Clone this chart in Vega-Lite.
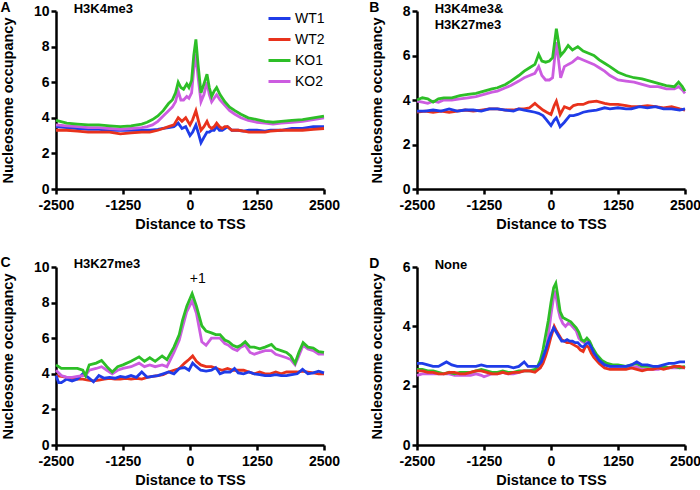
{
"$schema": "https://vega.github.io/schema/vega-lite/v6.json",
"padding": {"left": 0, "top": 0, "right": 5, "bottom": 0},
"spacing": 25,
"config": {
 "font": "Liberation Sans",
 "view": {"stroke": null},
 "axis": {"domainColor": "black", "domainWidth": 2.5, "tickColor": "black", "tickWidth": 2.5, "tickSize": 5, "labelFont": "Liberation Sans", "labelFontWeight": "bold", "labelFontSize": 14, "labelColor": "black", "labelPadding": 2, "labelOverlap": false, "titleFont": "Liberation Sans", "titleFontSize": 14.5, "titleFontWeight": "bold", "titleColor": "black", "grid": false, "labelFlush": false},
 "axisX": {"titlePadding": 5, "labelPadding": 4},
 "axisY": {"titlePadding": 18},
 "title": {"anchor": "start", "frame": "bounds", "fontSize": 14, "fontWeight": "bold", "font": "Liberation Sans", "color": "black", "offset": -12},
 "legend": {"orient": "none", "legendX": 211, "legendY": -5, "symbolType": "stroke", "symbolSize": 484, "symbolStrokeWidth": 3, "labelFont": "Liberation Sans", "labelFontSize": 14, "labelColor": "black", "labelOffset": 3, "rowPadding": 1, "padding": 0, "title": null}
},
"datasets": {
"d": [
{"p":"A","s":"WT1","x":-2500,"y":3.5},{"p":"A","s":"WT1","x":-2300,"y":3.45},{"p":"A","s":"WT1","x":-2100,"y":3.4},{"p":"A","s":"WT1","x":-1900,"y":3.35},{"p":"A","s":"WT1","x":-1700,"y":3.35},{"p":"A","s":"WT1","x":-1500,"y":3.3},{"p":"A","s":"WT1","x":-1300,"y":3.3},{"p":"A","s":"WT1","x":-1100,"y":3.3},{"p":"A","s":"WT1","x":-900,"y":3.3},{"p":"A","s":"WT1","x":-750,"y":3.3},{"p":"A","s":"WT1","x":-600,"y":3.35},{"p":"A","s":"WT1","x":-500,"y":3.4},{"p":"A","s":"WT1","x":-400,"y":3.45},{"p":"A","s":"WT1","x":-300,"y":3.5},{"p":"A","s":"WT1","x":-220,"y":3.7},{"p":"A","s":"WT1","x":-150,"y":3.4},{"p":"A","s":"WT1","x":-80,"y":3.5},{"p":"A","s":"WT1","x":0,"y":3.0},{"p":"A","s":"WT1","x":50,"y":3.2},{"p":"A","s":"WT1","x":110,"y":3.6},{"p":"A","s":"WT1","x":160,"y":3.1},{"p":"A","s":"WT1","x":205,"y":2.6},{"p":"A","s":"WT1","x":260,"y":2.9},{"p":"A","s":"WT1","x":317,"y":3.2},{"p":"A","s":"WT1","x":360,"y":3.2},{"p":"A","s":"WT1","x":404,"y":3.3},{"p":"A","s":"WT1","x":450,"y":3.3},{"p":"A","s":"WT1","x":497,"y":3.5},{"p":"A","s":"WT1","x":550,"y":3.3},{"p":"A","s":"WT1","x":600,"y":3.3},{"p":"A","s":"WT1","x":650,"y":3.4},{"p":"A","s":"WT1","x":700,"y":3.5},{"p":"A","s":"WT1","x":780,"y":3.3},{"p":"A","s":"WT1","x":900,"y":3.3},{"p":"A","s":"WT1","x":1000,"y":3.25},{"p":"A","s":"WT1","x":1100,"y":3.3},{"p":"A","s":"WT1","x":1250,"y":3.3},{"p":"A","s":"WT1","x":1400,"y":3.25},{"p":"A","s":"WT1","x":1500,"y":3.3},{"p":"A","s":"WT1","x":1700,"y":3.3},{"p":"A","s":"WT1","x":1900,"y":3.4},{"p":"A","s":"WT1","x":2100,"y":3.4},{"p":"A","s":"WT1","x":2300,"y":3.5},{"p":"A","s":"WT1","x":2500,"y":3.5},
{"p":"A","s":"WT2","x":-2500,"y":3.3},{"p":"A","s":"WT2","x":-2300,"y":3.3},{"p":"A","s":"WT2","x":-2100,"y":3.25},{"p":"A","s":"WT2","x":-1900,"y":3.2},{"p":"A","s":"WT2","x":-1700,"y":3.2},{"p":"A","s":"WT2","x":-1500,"y":3.2},{"p":"A","s":"WT2","x":-1300,"y":3.1},{"p":"A","s":"WT2","x":-1100,"y":3.15},{"p":"A","s":"WT2","x":-900,"y":3.2},{"p":"A","s":"WT2","x":-750,"y":3.2},{"p":"A","s":"WT2","x":-600,"y":3.3},{"p":"A","s":"WT2","x":-500,"y":3.4},{"p":"A","s":"WT2","x":-400,"y":3.5},{"p":"A","s":"WT2","x":-300,"y":3.6},{"p":"A","s":"WT2","x":-220,"y":4.0},{"p":"A","s":"WT2","x":-150,"y":3.8},{"p":"A","s":"WT2","x":-80,"y":4.0},{"p":"A","s":"WT2","x":0,"y":3.6},{"p":"A","s":"WT2","x":50,"y":3.9},{"p":"A","s":"WT2","x":110,"y":4.4},{"p":"A","s":"WT2","x":160,"y":3.8},{"p":"A","s":"WT2","x":205,"y":3.3},{"p":"A","s":"WT2","x":260,"y":3.5},{"p":"A","s":"WT2","x":317,"y":3.8},{"p":"A","s":"WT2","x":360,"y":3.5},{"p":"A","s":"WT2","x":404,"y":3.4},{"p":"A","s":"WT2","x":450,"y":3.5},{"p":"A","s":"WT2","x":497,"y":3.7},{"p":"A","s":"WT2","x":550,"y":3.5},{"p":"A","s":"WT2","x":600,"y":3.4},{"p":"A","s":"WT2","x":650,"y":3.5},{"p":"A","s":"WT2","x":700,"y":3.5},{"p":"A","s":"WT2","x":780,"y":3.3},{"p":"A","s":"WT2","x":900,"y":3.3},{"p":"A","s":"WT2","x":1000,"y":3.25},{"p":"A","s":"WT2","x":1100,"y":3.2},{"p":"A","s":"WT2","x":1250,"y":3.2},{"p":"A","s":"WT2","x":1400,"y":3.2},{"p":"A","s":"WT2","x":1500,"y":3.25},{"p":"A","s":"WT2","x":1700,"y":3.3},{"p":"A","s":"WT2","x":1900,"y":3.3},{"p":"A","s":"WT2","x":2100,"y":3.3},{"p":"A","s":"WT2","x":2300,"y":3.35},{"p":"A","s":"WT2","x":2500,"y":3.4},
{"p":"A","s":"KO2","x":-2500,"y":3.6},{"p":"A","s":"KO2","x":-2300,"y":3.55},{"p":"A","s":"KO2","x":-2100,"y":3.5},{"p":"A","s":"KO2","x":-1900,"y":3.45},{"p":"A","s":"KO2","x":-1700,"y":3.45},{"p":"A","s":"KO2","x":-1500,"y":3.4},{"p":"A","s":"KO2","x":-1300,"y":3.35},{"p":"A","s":"KO2","x":-1100,"y":3.4},{"p":"A","s":"KO2","x":-900,"y":3.45},{"p":"A","s":"KO2","x":-800,"y":3.5},{"p":"A","s":"KO2","x":-700,"y":3.6},{"p":"A","s":"KO2","x":-600,"y":3.8},{"p":"A","s":"KO2","x":-500,"y":4.1},{"p":"A","s":"KO2","x":-400,"y":4.4},{"p":"A","s":"KO2","x":-330,"y":4.6},{"p":"A","s":"KO2","x":-270,"y":4.9},{"p":"A","s":"KO2","x":-220,"y":5.5},{"p":"A","s":"KO2","x":-170,"y":5.0},{"p":"A","s":"KO2","x":-120,"y":5.0},{"p":"A","s":"KO2","x":-60,"y":5.2},{"p":"A","s":"KO2","x":-20,"y":5.1},{"p":"A","s":"KO2","x":30,"y":5.4},{"p":"A","s":"KO2","x":70,"y":6.7},{"p":"A","s":"KO2","x":110,"y":7.6},{"p":"A","s":"KO2","x":150,"y":6.3},{"p":"A","s":"KO2","x":205,"y":4.9},{"p":"A","s":"KO2","x":260,"y":5.3},{"p":"A","s":"KO2","x":317,"y":6.0},{"p":"A","s":"KO2","x":360,"y":5.3},{"p":"A","s":"KO2","x":404,"y":4.9},{"p":"A","s":"KO2","x":450,"y":5.1},{"p":"A","s":"KO2","x":497,"y":5.3},{"p":"A","s":"KO2","x":560,"y":5.0},{"p":"A","s":"KO2","x":650,"y":4.7},{"p":"A","s":"KO2","x":740,"y":4.4},{"p":"A","s":"KO2","x":838,"y":4.2},{"p":"A","s":"KO2","x":950,"y":4.0},{"p":"A","s":"KO2","x":1087,"y":3.85},{"p":"A","s":"KO2","x":1250,"y":3.75},{"p":"A","s":"KO2","x":1400,"y":3.7},{"p":"A","s":"KO2","x":1550,"y":3.65},{"p":"A","s":"KO2","x":1700,"y":3.7},{"p":"A","s":"KO2","x":1900,"y":3.75},{"p":"A","s":"KO2","x":2100,"y":3.8},{"p":"A","s":"KO2","x":2300,"y":3.9},{"p":"A","s":"KO2","x":2500,"y":4.0},
{"p":"A","s":"KO1","x":-2500,"y":3.85},{"p":"A","s":"KO1","x":-2300,"y":3.7},{"p":"A","s":"KO1","x":-2100,"y":3.65},{"p":"A","s":"KO1","x":-1900,"y":3.6},{"p":"A","s":"KO1","x":-1700,"y":3.6},{"p":"A","s":"KO1","x":-1500,"y":3.55},{"p":"A","s":"KO1","x":-1300,"y":3.5},{"p":"A","s":"KO1","x":-1100,"y":3.55},{"p":"A","s":"KO1","x":-900,"y":3.65},{"p":"A","s":"KO1","x":-800,"y":3.75},{"p":"A","s":"KO1","x":-700,"y":3.9},{"p":"A","s":"KO1","x":-600,"y":4.1},{"p":"A","s":"KO1","x":-500,"y":4.4},{"p":"A","s":"KO1","x":-400,"y":4.8},{"p":"A","s":"KO1","x":-330,"y":5.0},{"p":"A","s":"KO1","x":-270,"y":5.4},{"p":"A","s":"KO1","x":-220,"y":6.0},{"p":"A","s":"KO1","x":-170,"y":5.7},{"p":"A","s":"KO1","x":-120,"y":5.6},{"p":"A","s":"KO1","x":-60,"y":5.9},{"p":"A","s":"KO1","x":-20,"y":5.7},{"p":"A","s":"KO1","x":30,"y":6.1},{"p":"A","s":"KO1","x":70,"y":7.5},{"p":"A","s":"KO1","x":110,"y":8.4},{"p":"A","s":"KO1","x":150,"y":7.0},{"p":"A","s":"KO1","x":205,"y":5.4},{"p":"A","s":"KO1","x":260,"y":5.9},{"p":"A","s":"KO1","x":317,"y":6.45},{"p":"A","s":"KO1","x":360,"y":5.7},{"p":"A","s":"KO1","x":404,"y":5.2},{"p":"A","s":"KO1","x":450,"y":5.5},{"p":"A","s":"KO1","x":497,"y":5.7},{"p":"A","s":"KO1","x":560,"y":5.3},{"p":"A","s":"KO1","x":650,"y":4.9},{"p":"A","s":"KO1","x":740,"y":4.6},{"p":"A","s":"KO1","x":838,"y":4.4},{"p":"A","s":"KO1","x":950,"y":4.2},{"p":"A","s":"KO1","x":1087,"y":4.0},{"p":"A","s":"KO1","x":1250,"y":3.9},{"p":"A","s":"KO1","x":1400,"y":3.8},{"p":"A","s":"KO1","x":1550,"y":3.75},{"p":"A","s":"KO1","x":1700,"y":3.8},{"p":"A","s":"KO1","x":1900,"y":3.85},{"p":"A","s":"KO1","x":2100,"y":3.9},{"p":"A","s":"KO1","x":2300,"y":4.0},{"p":"A","s":"KO1","x":2500,"y":4.1},

{"p":"B","s":"WT2","x":-2500,"y":3.45},{"p":"B","s":"WT2","x":-2350,"y":3.5},{"p":"B","s":"WT2","x":-2200,"y":3.45},{"p":"B","s":"WT2","x":-2050,"y":3.5},{"p":"B","s":"WT2","x":-1900,"y":3.45},{"p":"B","s":"WT2","x":-1750,"y":3.5},{"p":"B","s":"WT2","x":-1600,"y":3.55},{"p":"B","s":"WT2","x":-1450,"y":3.5},{"p":"B","s":"WT2","x":-1300,"y":3.55},{"p":"B","s":"WT2","x":-1150,"y":3.6},{"p":"B","s":"WT2","x":-1000,"y":3.6},{"p":"B","s":"WT2","x":-850,"y":3.55},{"p":"B","s":"WT2","x":-700,"y":3.55},{"p":"B","s":"WT2","x":-600,"y":3.6},{"p":"B","s":"WT2","x":-500,"y":3.6},{"p":"B","s":"WT2","x":-400,"y":3.65},{"p":"B","s":"WT2","x":-300,"y":3.85},{"p":"B","s":"WT2","x":-230,"y":3.7},{"p":"B","s":"WT2","x":-150,"y":3.55},{"p":"B","s":"WT2","x":-80,"y":3.45},{"p":"B","s":"WT2","x":0,"y":3.35},{"p":"B","s":"WT2","x":60,"y":3.75},{"p":"B","s":"WT2","x":100,"y":3.95},{"p":"B","s":"WT2","x":170,"y":3.35},{"p":"B","s":"WT2","x":250,"y":3.7},{"p":"B","s":"WT2","x":350,"y":3.6},{"p":"B","s":"WT2","x":420,"y":3.75},{"p":"B","s":"WT2","x":500,"y":3.8},{"p":"B","s":"WT2","x":600,"y":3.8},{"p":"B","s":"WT2","x":700,"y":3.9},{"p":"B","s":"WT2","x":850,"y":3.95},{"p":"B","s":"WT2","x":1000,"y":3.85},{"p":"B","s":"WT2","x":1100,"y":3.8},{"p":"B","s":"WT2","x":1250,"y":3.8},{"p":"B","s":"WT2","x":1400,"y":3.75},{"p":"B","s":"WT2","x":1500,"y":3.7},{"p":"B","s":"WT2","x":1650,"y":3.7},{"p":"B","s":"WT2","x":1800,"y":3.75},{"p":"B","s":"WT2","x":1950,"y":3.7},{"p":"B","s":"WT2","x":2100,"y":3.65},{"p":"B","s":"WT2","x":2250,"y":3.7},{"p":"B","s":"WT2","x":2400,"y":3.6},{"p":"B","s":"WT2","x":2500,"y":3.55},
{"p":"B","s":"WT1","x":-2500,"y":3.5},{"p":"B","s":"WT1","x":-2350,"y":3.5},{"p":"B","s":"WT1","x":-2200,"y":3.55},{"p":"B","s":"WT1","x":-2050,"y":3.5},{"p":"B","s":"WT1","x":-1900,"y":3.6},{"p":"B","s":"WT1","x":-1750,"y":3.5},{"p":"B","s":"WT1","x":-1600,"y":3.55},{"p":"B","s":"WT1","x":-1450,"y":3.55},{"p":"B","s":"WT1","x":-1300,"y":3.5},{"p":"B","s":"WT1","x":-1150,"y":3.6},{"p":"B","s":"WT1","x":-1000,"y":3.6},{"p":"B","s":"WT1","x":-850,"y":3.55},{"p":"B","s":"WT1","x":-700,"y":3.5},{"p":"B","s":"WT1","x":-600,"y":3.6},{"p":"B","s":"WT1","x":-500,"y":3.55},{"p":"B","s":"WT1","x":-400,"y":3.5},{"p":"B","s":"WT1","x":-300,"y":3.45},{"p":"B","s":"WT1","x":-230,"y":3.4},{"p":"B","s":"WT1","x":-150,"y":3.3},{"p":"B","s":"WT1","x":-80,"y":3.1},{"p":"B","s":"WT1","x":0,"y":2.85},{"p":"B","s":"WT1","x":60,"y":3.1},{"p":"B","s":"WT1","x":100,"y":3.2},{"p":"B","s":"WT1","x":170,"y":2.8},{"p":"B","s":"WT1","x":250,"y":3.0},{"p":"B","s":"WT1","x":350,"y":3.3},{"p":"B","s":"WT1","x":420,"y":3.3},{"p":"B","s":"WT1","x":500,"y":3.35},{"p":"B","s":"WT1","x":600,"y":3.45},{"p":"B","s":"WT1","x":700,"y":3.5},{"p":"B","s":"WT1","x":850,"y":3.55},{"p":"B","s":"WT1","x":1000,"y":3.65},{"p":"B","s":"WT1","x":1100,"y":3.6},{"p":"B","s":"WT1","x":1250,"y":3.65},{"p":"B","s":"WT1","x":1400,"y":3.6},{"p":"B","s":"WT1","x":1500,"y":3.6},{"p":"B","s":"WT1","x":1650,"y":3.7},{"p":"B","s":"WT1","x":1800,"y":3.65},{"p":"B","s":"WT1","x":1950,"y":3.7},{"p":"B","s":"WT1","x":2100,"y":3.6},{"p":"B","s":"WT1","x":2250,"y":3.6},{"p":"B","s":"WT1","x":2400,"y":3.55},{"p":"B","s":"WT1","x":2500,"y":3.6},
{"p":"B","s":"KO2","x":-2500,"y":3.95},{"p":"B","s":"KO2","x":-2400,"y":3.9},{"p":"B","s":"KO2","x":-2300,"y":3.85},{"p":"B","s":"KO2","x":-2200,"y":3.95},{"p":"B","s":"KO2","x":-2100,"y":3.9},{"p":"B","s":"KO2","x":-2000,"y":4.0},{"p":"B","s":"KO2","x":-1850,"y":4.0},{"p":"B","s":"KO2","x":-1700,"y":4.05},{"p":"B","s":"KO2","x":-1550,"y":4.1},{"p":"B","s":"KO2","x":-1400,"y":4.15},{"p":"B","s":"KO2","x":-1250,"y":4.25},{"p":"B","s":"KO2","x":-1100,"y":4.35},{"p":"B","s":"KO2","x":-1000,"y":4.4},{"p":"B","s":"KO2","x":-850,"y":4.55},{"p":"B","s":"KO2","x":-750,"y":4.65},{"p":"B","s":"KO2","x":-600,"y":4.85},{"p":"B","s":"KO2","x":-500,"y":5.0},{"p":"B","s":"KO2","x":-400,"y":5.1},{"p":"B","s":"KO2","x":-300,"y":5.2},{"p":"B","s":"KO2","x":-230,"y":5.5},{"p":"B","s":"KO2","x":-170,"y":5.1},{"p":"B","s":"KO2","x":-100,"y":4.9},{"p":"B","s":"KO2","x":-30,"y":4.9},{"p":"B","s":"KO2","x":30,"y":5.0},{"p":"B","s":"KO2","x":100,"y":6.6},{"p":"B","s":"KO2","x":140,"y":5.8},{"p":"B","s":"KO2","x":180,"y":5.0},{"p":"B","s":"KO2","x":250,"y":5.5},{"p":"B","s":"KO2","x":320,"y":5.6},{"p":"B","s":"KO2","x":400,"y":5.7},{"p":"B","s":"KO2","x":500,"y":5.9},{"p":"B","s":"KO2","x":600,"y":5.8},{"p":"B","s":"KO2","x":700,"y":5.7},{"p":"B","s":"KO2","x":800,"y":5.6},{"p":"B","s":"KO2","x":900,"y":5.45},{"p":"B","s":"KO2","x":1000,"y":5.3},{"p":"B","s":"KO2","x":1100,"y":5.1},{"p":"B","s":"KO2","x":1250,"y":4.9},{"p":"B","s":"KO2","x":1400,"y":4.85},{"p":"B","s":"KO2","x":1550,"y":4.8},{"p":"B","s":"KO2","x":1700,"y":4.7},{"p":"B","s":"KO2","x":1850,"y":4.6},{"p":"B","s":"KO2","x":2000,"y":4.6},{"p":"B","s":"KO2","x":2150,"y":4.5},{"p":"B","s":"KO2","x":2300,"y":4.5},{"p":"B","s":"KO2","x":2380,"y":4.6},{"p":"B","s":"KO2","x":2450,"y":4.45},{"p":"B","s":"KO2","x":2500,"y":4.3},
{"p":"B","s":"KO1","x":-2500,"y":4.0},{"p":"B","s":"KO1","x":-2400,"y":4.1},{"p":"B","s":"KO1","x":-2300,"y":4.05},{"p":"B","s":"KO1","x":-2200,"y":3.9},{"p":"B","s":"KO1","x":-2100,"y":4.05},{"p":"B","s":"KO1","x":-2000,"y":4.1},{"p":"B","s":"KO1","x":-1850,"y":4.1},{"p":"B","s":"KO1","x":-1700,"y":4.2},{"p":"B","s":"KO1","x":-1550,"y":4.25},{"p":"B","s":"KO1","x":-1400,"y":4.3},{"p":"B","s":"KO1","x":-1250,"y":4.4},{"p":"B","s":"KO1","x":-1100,"y":4.5},{"p":"B","s":"KO1","x":-1000,"y":4.55},{"p":"B","s":"KO1","x":-850,"y":4.7},{"p":"B","s":"KO1","x":-750,"y":4.85},{"p":"B","s":"KO1","x":-600,"y":5.1},{"p":"B","s":"KO1","x":-500,"y":5.3},{"p":"B","s":"KO1","x":-400,"y":5.45},{"p":"B","s":"KO1","x":-300,"y":5.6},{"p":"B","s":"KO1","x":-230,"y":6.05},{"p":"B","s":"KO1","x":-170,"y":5.75},{"p":"B","s":"KO1","x":-100,"y":5.7},{"p":"B","s":"KO1","x":-30,"y":5.75},{"p":"B","s":"KO1","x":30,"y":5.9},{"p":"B","s":"KO1","x":100,"y":7.2},{"p":"B","s":"KO1","x":140,"y":6.6},{"p":"B","s":"KO1","x":180,"y":6.0},{"p":"B","s":"KO1","x":250,"y":6.2},{"p":"B","s":"KO1","x":320,"y":6.45},{"p":"B","s":"KO1","x":400,"y":6.25},{"p":"B","s":"KO1","x":500,"y":6.4},{"p":"B","s":"KO1","x":600,"y":6.2},{"p":"B","s":"KO1","x":700,"y":6.1},{"p":"B","s":"KO1","x":800,"y":6.0},{"p":"B","s":"KO1","x":900,"y":5.8},{"p":"B","s":"KO1","x":1000,"y":5.65},{"p":"B","s":"KO1","x":1100,"y":5.5},{"p":"B","s":"KO1","x":1250,"y":5.25},{"p":"B","s":"KO1","x":1400,"y":5.1},{"p":"B","s":"KO1","x":1550,"y":5.0},{"p":"B","s":"KO1","x":1700,"y":4.95},{"p":"B","s":"KO1","x":1850,"y":4.85},{"p":"B","s":"KO1","x":2000,"y":4.75},{"p":"B","s":"KO1","x":2150,"y":4.65},{"p":"B","s":"KO1","x":2300,"y":4.6},{"p":"B","s":"KO1","x":2380,"y":4.8},{"p":"B","s":"KO1","x":2450,"y":4.6},{"p":"B","s":"KO1","x":2500,"y":4.4},

{"p":"C","s":"WT2","x":-2500,"y":3.9},{"p":"C","s":"WT2","x":-2400,"y":3.85},{"p":"C","s":"WT2","x":-2300,"y":3.8},{"p":"C","s":"WT2","x":-2200,"y":3.75},{"p":"C","s":"WT2","x":-2100,"y":3.7},{"p":"C","s":"WT2","x":-2000,"y":3.7},{"p":"C","s":"WT2","x":-1900,"y":3.65},{"p":"C","s":"WT2","x":-1800,"y":3.6},{"p":"C","s":"WT2","x":-1700,"y":3.65},{"p":"C","s":"WT2","x":-1600,"y":3.7},{"p":"C","s":"WT2","x":-1500,"y":3.75},{"p":"C","s":"WT2","x":-1400,"y":3.7},{"p":"C","s":"WT2","x":-1300,"y":3.7},{"p":"C","s":"WT2","x":-1200,"y":3.75},{"p":"C","s":"WT2","x":-1100,"y":3.7},{"p":"C","s":"WT2","x":-1000,"y":3.75},{"p":"C","s":"WT2","x":-900,"y":3.7},{"p":"C","s":"WT2","x":-800,"y":3.8},{"p":"C","s":"WT2","x":-700,"y":3.85},{"p":"C","s":"WT2","x":-600,"y":3.9},{"p":"C","s":"WT2","x":-500,"y":3.95},{"p":"C","s":"WT2","x":-400,"y":4.1},{"p":"C","s":"WT2","x":-300,"y":4.2},{"p":"C","s":"WT2","x":-200,"y":4.3},{"p":"C","s":"WT2","x":-100,"y":4.6},{"p":"C","s":"WT2","x":-20,"y":4.8},{"p":"C","s":"WT2","x":50,"y":5.0},{"p":"C","s":"WT2","x":120,"y":4.7},{"p":"C","s":"WT2","x":200,"y":4.5},{"p":"C","s":"WT2","x":300,"y":4.4},{"p":"C","s":"WT2","x":400,"y":4.4},{"p":"C","s":"WT2","x":500,"y":4.3},{"p":"C","s":"WT2","x":600,"y":4.2},{"p":"C","s":"WT2","x":700,"y":4.3},{"p":"C","s":"WT2","x":800,"y":4.2},{"p":"C","s":"WT2","x":900,"y":4.2},{"p":"C","s":"WT2","x":1000,"y":4.2},{"p":"C","s":"WT2","x":1100,"y":4.1},{"p":"C","s":"WT2","x":1200,"y":4.0},{"p":"C","s":"WT2","x":1300,"y":4.1},{"p":"C","s":"WT2","x":1400,"y":4.0},{"p":"C","s":"WT2","x":1500,"y":4.0},{"p":"C","s":"WT2","x":1600,"y":4.1},{"p":"C","s":"WT2","x":1700,"y":4.0},{"p":"C","s":"WT2","x":1800,"y":4.1},{"p":"C","s":"WT2","x":1900,"y":4.1},{"p":"C","s":"WT2","x":2000,"y":4.1},{"p":"C","s":"WT2","x":2100,"y":4.15},{"p":"C","s":"WT2","x":2200,"y":4.1},{"p":"C","s":"WT2","x":2300,"y":4.05},{"p":"C","s":"WT2","x":2400,"y":4.0},{"p":"C","s":"WT2","x":2500,"y":4.0},
{"p":"C","s":"WT1","x":-2500,"y":3.9},{"p":"C","s":"WT1","x":-2450,"y":3.5},{"p":"C","s":"WT1","x":-2400,"y":3.5},{"p":"C","s":"WT1","x":-2300,"y":3.7},{"p":"C","s":"WT1","x":-2200,"y":3.6},{"p":"C","s":"WT1","x":-2100,"y":3.7},{"p":"C","s":"WT1","x":-2000,"y":4.0},{"p":"C","s":"WT1","x":-1900,"y":3.8},{"p":"C","s":"WT1","x":-1800,"y":3.55},{"p":"C","s":"WT1","x":-1700,"y":3.9},{"p":"C","s":"WT1","x":-1600,"y":3.75},{"p":"C","s":"WT1","x":-1500,"y":3.8},{"p":"C","s":"WT1","x":-1400,"y":3.75},{"p":"C","s":"WT1","x":-1300,"y":3.85},{"p":"C","s":"WT1","x":-1200,"y":3.8},{"p":"C","s":"WT1","x":-1100,"y":3.9},{"p":"C","s":"WT1","x":-1000,"y":3.8},{"p":"C","s":"WT1","x":-900,"y":4.1},{"p":"C","s":"WT1","x":-800,"y":3.8},{"p":"C","s":"WT1","x":-700,"y":3.85},{"p":"C","s":"WT1","x":-600,"y":3.9},{"p":"C","s":"WT1","x":-500,"y":4.0},{"p":"C","s":"WT1","x":-400,"y":4.1},{"p":"C","s":"WT1","x":-300,"y":4.0},{"p":"C","s":"WT1","x":-200,"y":4.3},{"p":"C","s":"WT1","x":-100,"y":4.35},{"p":"C","s":"WT1","x":-20,"y":4.2},{"p":"C","s":"WT1","x":50,"y":4.6},{"p":"C","s":"WT1","x":120,"y":4.4},{"p":"C","s":"WT1","x":200,"y":4.2},{"p":"C","s":"WT1","x":300,"y":4.15},{"p":"C","s":"WT1","x":400,"y":4.2},{"p":"C","s":"WT1","x":480,"y":4.35},{"p":"C","s":"WT1","x":560,"y":4.0},{"p":"C","s":"WT1","x":650,"y":4.1},{"p":"C","s":"WT1","x":750,"y":4.1},{"p":"C","s":"WT1","x":830,"y":4.3},{"p":"C","s":"WT1","x":900,"y":4.05},{"p":"C","s":"WT1","x":1000,"y":4.0},{"p":"C","s":"WT1","x":1100,"y":4.1},{"p":"C","s":"WT1","x":1200,"y":4.0},{"p":"C","s":"WT1","x":1300,"y":3.95},{"p":"C","s":"WT1","x":1400,"y":3.9},{"p":"C","s":"WT1","x":1500,"y":3.9},{"p":"C","s":"WT1","x":1600,"y":3.95},{"p":"C","s":"WT1","x":1700,"y":3.9},{"p":"C","s":"WT1","x":1800,"y":3.9},{"p":"C","s":"WT1","x":1900,"y":3.95},{"p":"C","s":"WT1","x":2000,"y":4.0},{"p":"C","s":"WT1","x":2100,"y":4.25},{"p":"C","s":"WT1","x":2200,"y":4.0},{"p":"C","s":"WT1","x":2300,"y":4.05},{"p":"C","s":"WT1","x":2400,"y":4.15},{"p":"C","s":"WT1","x":2500,"y":4.05},
{"p":"C","s":"KO2","x":-2500,"y":4.2},{"p":"C","s":"KO2","x":-2400,"y":3.9},{"p":"C","s":"KO2","x":-2300,"y":3.8},{"p":"C","s":"KO2","x":-2200,"y":3.8},{"p":"C","s":"KO2","x":-2100,"y":3.85},{"p":"C","s":"KO2","x":-2000,"y":3.9},{"p":"C","s":"KO2","x":-1950,"y":3.9},{"p":"C","s":"KO2","x":-1880,"y":4.2},{"p":"C","s":"KO2","x":-1750,"y":4.3},{"p":"C","s":"KO2","x":-1650,"y":4.4},{"p":"C","s":"KO2","x":-1550,"y":4.2},{"p":"C","s":"KO2","x":-1450,"y":4.0},{"p":"C","s":"KO2","x":-1350,"y":4.2},{"p":"C","s":"KO2","x":-1250,"y":4.3},{"p":"C","s":"KO2","x":-1100,"y":4.4},{"p":"C","s":"KO2","x":-950,"y":4.6},{"p":"C","s":"KO2","x":-850,"y":4.4},{"p":"C","s":"KO2","x":-750,"y":4.5},{"p":"C","s":"KO2","x":-650,"y":4.4},{"p":"C","s":"KO2","x":-520,"y":4.5},{"p":"C","s":"KO2","x":-430,"y":4.4},{"p":"C","s":"KO2","x":-300,"y":5.2},{"p":"C","s":"KO2","x":-200,"y":5.9},{"p":"C","s":"KO2","x":-140,"y":6.6},{"p":"C","s":"KO2","x":-60,"y":7.5},{"p":"C","s":"KO2","x":40,"y":8.1},{"p":"C","s":"KO2","x":120,"y":7.4},{"p":"C","s":"KO2","x":220,"y":5.8},{"p":"C","s":"KO2","x":300,"y":5.6},{"p":"C","s":"KO2","x":400,"y":6.0},{"p":"C","s":"KO2","x":480,"y":6.0},{"p":"C","s":"KO2","x":560,"y":6.0},{"p":"C","s":"KO2","x":650,"y":5.7},{"p":"C","s":"KO2","x":720,"y":5.6},{"p":"C","s":"KO2","x":800,"y":5.4},{"p":"C","s":"KO2","x":880,"y":5.3},{"p":"C","s":"KO2","x":950,"y":5.5},{"p":"C","s":"KO2","x":1030,"y":5.6},{"p":"C","s":"KO2","x":1120,"y":5.2},{"p":"C","s":"KO2","x":1200,"y":5.1},{"p":"C","s":"KO2","x":1300,"y":5.2},{"p":"C","s":"KO2","x":1400,"y":5.3},{"p":"C","s":"KO2","x":1520,"y":5.3},{"p":"C","s":"KO2","x":1600,"y":5.1},{"p":"C","s":"KO2","x":1700,"y":5.0},{"p":"C","s":"KO2","x":1800,"y":4.9},{"p":"C","s":"KO2","x":1880,"y":4.8},{"p":"C","s":"KO2","x":1960,"y":4.5},{"p":"C","s":"KO2","x":2030,"y":5.0},{"p":"C","s":"KO2","x":2110,"y":5.6},{"p":"C","s":"KO2","x":2200,"y":5.4},{"p":"C","s":"KO2","x":2300,"y":5.3},{"p":"C","s":"KO2","x":2400,"y":5.1},{"p":"C","s":"KO2","x":2500,"y":5.1},
{"p":"C","s":"KO1","x":-2500,"y":4.5},{"p":"C","s":"KO1","x":-2400,"y":4.3},{"p":"C","s":"KO1","x":-2300,"y":4.3},{"p":"C","s":"KO1","x":-2200,"y":4.3},{"p":"C","s":"KO1","x":-2100,"y":4.3},{"p":"C","s":"KO1","x":-2000,"y":4.2},{"p":"C","s":"KO1","x":-1950,"y":3.9},{"p":"C","s":"KO1","x":-1880,"y":4.5},{"p":"C","s":"KO1","x":-1750,"y":4.6},{"p":"C","s":"KO1","x":-1650,"y":4.75},{"p":"C","s":"KO1","x":-1550,"y":4.4},{"p":"C","s":"KO1","x":-1450,"y":4.1},{"p":"C","s":"KO1","x":-1350,"y":4.4},{"p":"C","s":"KO1","x":-1250,"y":4.5},{"p":"C","s":"KO1","x":-1100,"y":4.7},{"p":"C","s":"KO1","x":-950,"y":4.95},{"p":"C","s":"KO1","x":-850,"y":4.7},{"p":"C","s":"KO1","x":-750,"y":4.9},{"p":"C","s":"KO1","x":-650,"y":4.7},{"p":"C","s":"KO1","x":-520,"y":5.0},{"p":"C","s":"KO1","x":-430,"y":4.8},{"p":"C","s":"KO1","x":-300,"y":5.5},{"p":"C","s":"KO1","x":-200,"y":6.2},{"p":"C","s":"KO1","x":-140,"y":7.0},{"p":"C","s":"KO1","x":-60,"y":7.8},{"p":"C","s":"KO1","x":40,"y":8.5},{"p":"C","s":"KO1","x":120,"y":7.8},{"p":"C","s":"KO1","x":220,"y":6.7},{"p":"C","s":"KO1","x":300,"y":6.4},{"p":"C","s":"KO1","x":400,"y":6.3},{"p":"C","s":"KO1","x":480,"y":6.2},{"p":"C","s":"KO1","x":560,"y":6.2},{"p":"C","s":"KO1","x":650,"y":5.9},{"p":"C","s":"KO1","x":720,"y":5.8},{"p":"C","s":"KO1","x":800,"y":5.6},{"p":"C","s":"KO1","x":880,"y":5.5},{"p":"C","s":"KO1","x":950,"y":5.6},{"p":"C","s":"KO1","x":1030,"y":5.8},{"p":"C","s":"KO1","x":1120,"y":5.5},{"p":"C","s":"KO1","x":1200,"y":5.5},{"p":"C","s":"KO1","x":1300,"y":5.4},{"p":"C","s":"KO1","x":1400,"y":5.5},{"p":"C","s":"KO1","x":1520,"y":5.65},{"p":"C","s":"KO1","x":1600,"y":5.4},{"p":"C","s":"KO1","x":1700,"y":5.3},{"p":"C","s":"KO1","x":1800,"y":5.2},{"p":"C","s":"KO1","x":1880,"y":5.0},{"p":"C","s":"KO1","x":1960,"y":4.6},{"p":"C","s":"KO1","x":2030,"y":5.2},{"p":"C","s":"KO1","x":2110,"y":5.75},{"p":"C","s":"KO1","x":2200,"y":5.5},{"p":"C","s":"KO1","x":2300,"y":5.45},{"p":"C","s":"KO1","x":2400,"y":5.25},{"p":"C","s":"KO1","x":2500,"y":5.2},

{"p":"D","s":"KO2","x":-2500,"y":2.35},{"p":"D","s":"KO2","x":-2400,"y":2.4},{"p":"D","s":"KO2","x":-2300,"y":2.4},{"p":"D","s":"KO2","x":-2200,"y":2.4},{"p":"D","s":"KO2","x":-2100,"y":2.4},{"p":"D","s":"KO2","x":-2000,"y":2.4},{"p":"D","s":"KO2","x":-1900,"y":2.4},{"p":"D","s":"KO2","x":-1800,"y":2.35},{"p":"D","s":"KO2","x":-1700,"y":2.35},{"p":"D","s":"KO2","x":-1600,"y":2.35},{"p":"D","s":"KO2","x":-1500,"y":2.35},{"p":"D","s":"KO2","x":-1400,"y":2.4},{"p":"D","s":"KO2","x":-1300,"y":2.35},{"p":"D","s":"KO2","x":-1250,"y":2.3},{"p":"D","s":"KO2","x":-1100,"y":2.4},{"p":"D","s":"KO2","x":-1000,"y":2.4},{"p":"D","s":"KO2","x":-900,"y":2.45},{"p":"D","s":"KO2","x":-800,"y":2.4},{"p":"D","s":"KO2","x":-700,"y":2.4},{"p":"D","s":"KO2","x":-600,"y":2.45},{"p":"D","s":"KO2","x":-500,"y":2.5},{"p":"D","s":"KO2","x":-400,"y":2.5},{"p":"D","s":"KO2","x":-300,"y":2.5},{"p":"D","s":"KO2","x":-200,"y":2.6},{"p":"D","s":"KO2","x":-150,"y":2.8},{"p":"D","s":"KO2","x":-100,"y":3.1},{"p":"D","s":"KO2","x":-50,"y":3.7},{"p":"D","s":"KO2","x":0,"y":4.4},{"p":"D","s":"KO2","x":50,"y":5.0},{"p":"D","s":"KO2","x":80,"y":5.2},{"p":"D","s":"KO2","x":130,"y":4.6},{"p":"D","s":"KO2","x":170,"y":4.3},{"p":"D","s":"KO2","x":220,"y":4.1},{"p":"D","s":"KO2","x":270,"y":4.0},{"p":"D","s":"KO2","x":320,"y":4.1},{"p":"D","s":"KO2","x":370,"y":4.05},{"p":"D","s":"KO2","x":420,"y":3.95},{"p":"D","s":"KO2","x":470,"y":3.85},{"p":"D","s":"KO2","x":520,"y":3.6},{"p":"D","s":"KO2","x":570,"y":3.5},{"p":"D","s":"KO2","x":620,"y":3.45},{"p":"D","s":"KO2","x":670,"y":3.55},{"p":"D","s":"KO2","x":720,"y":3.45},{"p":"D","s":"KO2","x":770,"y":3.25},{"p":"D","s":"KO2","x":850,"y":3.0},{"p":"D","s":"KO2","x":950,"y":2.8},{"p":"D","s":"KO2","x":1050,"y":2.7},{"p":"D","s":"KO2","x":1150,"y":2.6},{"p":"D","s":"KO2","x":1250,"y":2.6},{"p":"D","s":"KO2","x":1400,"y":2.6},{"p":"D","s":"KO2","x":1500,"y":2.6},{"p":"D","s":"KO2","x":1600,"y":2.65},{"p":"D","s":"KO2","x":1700,"y":2.55},{"p":"D","s":"KO2","x":1800,"y":2.55},{"p":"D","s":"KO2","x":1900,"y":2.55},{"p":"D","s":"KO2","x":2000,"y":2.55},{"p":"D","s":"KO2","x":2100,"y":2.6},{"p":"D","s":"KO2","x":2200,"y":2.6},{"p":"D","s":"KO2","x":2300,"y":2.6},{"p":"D","s":"KO2","x":2400,"y":2.6},{"p":"D","s":"KO2","x":2500,"y":2.6},
{"p":"D","s":"KO1","x":-2500,"y":2.55},{"p":"D","s":"KO1","x":-2400,"y":2.55},{"p":"D","s":"KO1","x":-2300,"y":2.5},{"p":"D","s":"KO1","x":-2200,"y":2.5},{"p":"D","s":"KO1","x":-2100,"y":2.45},{"p":"D","s":"KO1","x":-2000,"y":2.4},{"p":"D","s":"KO1","x":-1900,"y":2.45},{"p":"D","s":"KO1","x":-1800,"y":2.4},{"p":"D","s":"KO1","x":-1700,"y":2.45},{"p":"D","s":"KO1","x":-1600,"y":2.45},{"p":"D","s":"KO1","x":-1500,"y":2.45},{"p":"D","s":"KO1","x":-1400,"y":2.5},{"p":"D","s":"KO1","x":-1300,"y":2.55},{"p":"D","s":"KO1","x":-1200,"y":2.5},{"p":"D","s":"KO1","x":-1100,"y":2.45},{"p":"D","s":"KO1","x":-1000,"y":2.45},{"p":"D","s":"KO1","x":-900,"y":2.5},{"p":"D","s":"KO1","x":-800,"y":2.45},{"p":"D","s":"KO1","x":-700,"y":2.45},{"p":"D","s":"KO1","x":-600,"y":2.5},{"p":"D","s":"KO1","x":-500,"y":2.5},{"p":"D","s":"KO1","x":-400,"y":2.5},{"p":"D","s":"KO1","x":-300,"y":2.55},{"p":"D","s":"KO1","x":-250,"y":2.65},{"p":"D","s":"KO1","x":-200,"y":2.85},{"p":"D","s":"KO1","x":-150,"y":3.2},{"p":"D","s":"KO1","x":-100,"y":3.7},{"p":"D","s":"KO1","x":-50,"y":4.2},{"p":"D","s":"KO1","x":0,"y":4.8},{"p":"D","s":"KO1","x":50,"y":5.3},{"p":"D","s":"KO1","x":90,"y":5.45},{"p":"D","s":"KO1","x":130,"y":5.0},{"p":"D","s":"KO1","x":170,"y":4.5},{"p":"D","s":"KO1","x":220,"y":4.3},{"p":"D","s":"KO1","x":270,"y":4.25},{"p":"D","s":"KO1","x":320,"y":4.2},{"p":"D","s":"KO1","x":370,"y":4.15},{"p":"D","s":"KO1","x":420,"y":4.05},{"p":"D","s":"KO1","x":470,"y":3.95},{"p":"D","s":"KO1","x":520,"y":3.8},{"p":"D","s":"KO1","x":570,"y":3.55},{"p":"D","s":"KO1","x":620,"y":3.5},{"p":"D","s":"KO1","x":670,"y":3.6},{"p":"D","s":"KO1","x":720,"y":3.5},{"p":"D","s":"KO1","x":770,"y":3.3},{"p":"D","s":"KO1","x":850,"y":3.05},{"p":"D","s":"KO1","x":950,"y":2.85},{"p":"D","s":"KO1","x":1050,"y":2.75},{"p":"D","s":"KO1","x":1150,"y":2.7},{"p":"D","s":"KO1","x":1250,"y":2.7},{"p":"D","s":"KO1","x":1400,"y":2.65},{"p":"D","s":"KO1","x":1500,"y":2.7},{"p":"D","s":"KO1","x":1600,"y":2.75},{"p":"D","s":"KO1","x":1700,"y":2.65},{"p":"D","s":"KO1","x":1800,"y":2.65},{"p":"D","s":"KO1","x":1900,"y":2.65},{"p":"D","s":"KO1","x":2000,"y":2.6},{"p":"D","s":"KO1","x":2100,"y":2.65},{"p":"D","s":"KO1","x":2200,"y":2.6},{"p":"D","s":"KO1","x":2300,"y":2.65},{"p":"D","s":"KO1","x":2400,"y":2.6},{"p":"D","s":"KO1","x":2500,"y":2.65},
{"p":"D","s":"WT2","x":-2500,"y":2.5},{"p":"D","s":"WT2","x":-2400,"y":2.5},{"p":"D","s":"WT2","x":-2300,"y":2.45},{"p":"D","s":"WT2","x":-2200,"y":2.45},{"p":"D","s":"WT2","x":-2100,"y":2.4},{"p":"D","s":"WT2","x":-2000,"y":2.4},{"p":"D","s":"WT2","x":-1900,"y":2.45},{"p":"D","s":"WT2","x":-1800,"y":2.45},{"p":"D","s":"WT2","x":-1700,"y":2.4},{"p":"D","s":"WT2","x":-1600,"y":2.4},{"p":"D","s":"WT2","x":-1500,"y":2.45},{"p":"D","s":"WT2","x":-1400,"y":2.5},{"p":"D","s":"WT2","x":-1300,"y":2.5},{"p":"D","s":"WT2","x":-1200,"y":2.45},{"p":"D","s":"WT2","x":-1100,"y":2.4},{"p":"D","s":"WT2","x":-1000,"y":2.4},{"p":"D","s":"WT2","x":-900,"y":2.45},{"p":"D","s":"WT2","x":-800,"y":2.4},{"p":"D","s":"WT2","x":-700,"y":2.45},{"p":"D","s":"WT2","x":-600,"y":2.45},{"p":"D","s":"WT2","x":-500,"y":2.5},{"p":"D","s":"WT2","x":-400,"y":2.5},{"p":"D","s":"WT2","x":-300,"y":2.45},{"p":"D","s":"WT2","x":-200,"y":2.6},{"p":"D","s":"WT2","x":-150,"y":2.75},{"p":"D","s":"WT2","x":-100,"y":3.0},{"p":"D","s":"WT2","x":-50,"y":3.3},{"p":"D","s":"WT2","x":0,"y":3.65},{"p":"D","s":"WT2","x":60,"y":4.0},{"p":"D","s":"WT2","x":100,"y":3.85},{"p":"D","s":"WT2","x":150,"y":3.7},{"p":"D","s":"WT2","x":200,"y":3.55},{"p":"D","s":"WT2","x":250,"y":3.5},{"p":"D","s":"WT2","x":300,"y":3.45},{"p":"D","s":"WT2","x":350,"y":3.45},{"p":"D","s":"WT2","x":400,"y":3.4},{"p":"D","s":"WT2","x":450,"y":3.35},{"p":"D","s":"WT2","x":500,"y":3.3},{"p":"D","s":"WT2","x":550,"y":3.2},{"p":"D","s":"WT2","x":600,"y":3.15},{"p":"D","s":"WT2","x":650,"y":3.35},{"p":"D","s":"WT2","x":700,"y":3.3},{"p":"D","s":"WT2","x":750,"y":3.1},{"p":"D","s":"WT2","x":800,"y":2.95},{"p":"D","s":"WT2","x":900,"y":2.75},{"p":"D","s":"WT2","x":1000,"y":2.6},{"p":"D","s":"WT2","x":1100,"y":2.55},{"p":"D","s":"WT2","x":1250,"y":2.55},{"p":"D","s":"WT2","x":1400,"y":2.55},{"p":"D","s":"WT2","x":1500,"y":2.6},{"p":"D","s":"WT2","x":1600,"y":2.55},{"p":"D","s":"WT2","x":1700,"y":2.5},{"p":"D","s":"WT2","x":1800,"y":2.55},{"p":"D","s":"WT2","x":1900,"y":2.55},{"p":"D","s":"WT2","x":2000,"y":2.6},{"p":"D","s":"WT2","x":2100,"y":2.55},{"p":"D","s":"WT2","x":2200,"y":2.6},{"p":"D","s":"WT2","x":2300,"y":2.65},{"p":"D","s":"WT2","x":2400,"y":2.65},{"p":"D","s":"WT2","x":2500,"y":2.6},
{"p":"D","s":"WT1","x":-2500,"y":2.75},{"p":"D","s":"WT1","x":-2400,"y":2.75},{"p":"D","s":"WT1","x":-2300,"y":2.7},{"p":"D","s":"WT1","x":-2200,"y":2.65},{"p":"D","s":"WT1","x":-2100,"y":2.65},{"p":"D","s":"WT1","x":-1950,"y":2.8},{"p":"D","s":"WT1","x":-1850,"y":2.7},{"p":"D","s":"WT1","x":-1750,"y":2.65},{"p":"D","s":"WT1","x":-1600,"y":2.65},{"p":"D","s":"WT1","x":-1500,"y":2.65},{"p":"D","s":"WT1","x":-1400,"y":2.65},{"p":"D","s":"WT1","x":-1300,"y":2.7},{"p":"D","s":"WT1","x":-1200,"y":2.65},{"p":"D","s":"WT1","x":-1100,"y":2.65},{"p":"D","s":"WT1","x":-1000,"y":2.65},{"p":"D","s":"WT1","x":-900,"y":2.65},{"p":"D","s":"WT1","x":-800,"y":2.65},{"p":"D","s":"WT1","x":-700,"y":2.6},{"p":"D","s":"WT1","x":-600,"y":2.65},{"p":"D","s":"WT1","x":-500,"y":2.8},{"p":"D","s":"WT1","x":-430,"y":2.65},{"p":"D","s":"WT1","x":-350,"y":2.65},{"p":"D","s":"WT1","x":-250,"y":2.65},{"p":"D","s":"WT1","x":-180,"y":2.8},{"p":"D","s":"WT1","x":-100,"y":3.2},{"p":"D","s":"WT1","x":-50,"y":3.5},{"p":"D","s":"WT1","x":0,"y":3.75},{"p":"D","s":"WT1","x":50,"y":3.95},{"p":"D","s":"WT1","x":100,"y":3.8},{"p":"D","s":"WT1","x":150,"y":3.65},{"p":"D","s":"WT1","x":200,"y":3.5},{"p":"D","s":"WT1","x":250,"y":3.5},{"p":"D","s":"WT1","x":300,"y":3.55},{"p":"D","s":"WT1","x":350,"y":3.5},{"p":"D","s":"WT1","x":400,"y":3.5},{"p":"D","s":"WT1","x":450,"y":3.45},{"p":"D","s":"WT1","x":500,"y":3.45},{"p":"D","s":"WT1","x":550,"y":3.35},{"p":"D","s":"WT1","x":600,"y":3.3},{"p":"D","s":"WT1","x":650,"y":3.4},{"p":"D","s":"WT1","x":700,"y":3.45},{"p":"D","s":"WT1","x":750,"y":3.3},{"p":"D","s":"WT1","x":800,"y":3.1},{"p":"D","s":"WT1","x":900,"y":2.85},{"p":"D","s":"WT1","x":1000,"y":2.7},{"p":"D","s":"WT1","x":1100,"y":2.65},{"p":"D","s":"WT1","x":1250,"y":2.65},{"p":"D","s":"WT1","x":1400,"y":2.65},{"p":"D","s":"WT1","x":1500,"y":2.7},{"p":"D","s":"WT1","x":1600,"y":2.8},{"p":"D","s":"WT1","x":1700,"y":2.7},{"p":"D","s":"WT1","x":1800,"y":2.7},{"p":"D","s":"WT1","x":1900,"y":2.65},{"p":"D","s":"WT1","x":2000,"y":2.65},{"p":"D","s":"WT1","x":2100,"y":2.7},{"p":"D","s":"WT1","x":2200,"y":2.75},{"p":"D","s":"WT1","x":2300,"y":2.75},{"p":"D","s":"WT1","x":2400,"y":2.8},{"p":"D","s":"WT1","x":2500,"y":2.8}
],
"t": [
{"p":"A","x":-2170,"y":10.1,"t":"H3K4me3"},
{"p":"B","x":-2170,"y":8.11,"t":"H3K4me3&"},
{"p":"B","x":-2170,"y":7.37,"t":"H3K27me3"},
{"p":"C","x":-2170,"y":10.15,"t":"H3K27me3"},
{"p":"D","x":-2170,"y":6.08,"t":"None"}
],
"n": [
{"p":"C","x":145,"y":9.33,"t":"+1"}
]
},
"vconcat": [
{"hconcat": [
{"title": "A", "width": 268, "height": 178, "layer": [
 {"data": {"name": "d"}, "transform": [{"filter": "datum.p === 'A'"}], "mark": {"type": "line", "strokeWidth": 2.8},
  "encoding": {"x": {"field": "x", "type": "quantitative", "scale": {"domain": [-2500, 2500]}, "axis": {"values": [-2500, -1250, 0, 1250, 2500], "labelOverlap": false, "labelExpr": "'' + datum.value", "title": "Distance to TSS"}},
   "y": {"field": "y", "type": "quantitative", "scale": {"domain": [0, 10]}, "axis": {"values": [0, 2, 4, 6, 8, 10], "tickCount": 6, "labelOverlap": false, "title": "Nucleosome occupancy"}},
   "color": {"field": "s", "type": "nominal", "scale": {"domain": ["WT1", "WT2", "KO1", "KO2"], "range": ["#1f3ce8", "#e8321c", "#2dbe27", "#cc5ce0"]}}}},
 {"data": {"name": "t"}, "transform": [{"filter": "datum.p === 'A'"}], "mark": {"type": "text", "align": "left", "baseline": "middle", "fontSize": 13, "fontWeight": "bold", "font": "Liberation Sans", "color": "black"},
  "encoding": {"x": {"field": "x", "type": "quantitative"}, "y": {"field": "y", "type": "quantitative"}, "text": {"field": "t"}}}
]},
{"title": "B", "width": 268, "height": 178, "layer": [
 {"data": {"name": "d"}, "transform": [{"filter": "datum.p === 'B'"}], "mark": {"type": "line", "strokeWidth": 2.8},
  "encoding": {"x": {"field": "x", "type": "quantitative", "scale": {"domain": [-2500, 2500]}, "axis": {"values": [-2500, -1250, 0, 1250, 2500], "labelOverlap": false, "labelExpr": "'' + datum.value", "title": "Distance to TSS"}},
   "y": {"field": "y", "type": "quantitative", "scale": {"domain": [0, 8]}, "axis": {"values": [0, 2, 4, 6, 8], "tickCount": 5, "labelOverlap": false, "title": "Nucleosome occupancy"}},
   "color": {"field": "s", "type": "nominal", "scale": {"domain": ["WT1", "WT2", "KO1", "KO2"], "range": ["#1f3ce8", "#e8321c", "#2dbe27", "#cc5ce0"]}}}},
 {"data": {"name": "t"}, "transform": [{"filter": "datum.p === 'B'"}], "mark": {"type": "text", "align": "left", "baseline": "middle", "fontSize": 13, "fontWeight": "bold", "font": "Liberation Sans", "color": "black"},
  "encoding": {"x": {"field": "x", "type": "quantitative"}, "y": {"field": "y", "type": "quantitative"}, "text": {"field": "t"}}}
]}
], "spacing": 29},
{"hconcat": [
{"title": "C", "width": 268, "height": 178, "layer": [
 {"data": {"name": "d"}, "transform": [{"filter": "datum.p === 'C'"}], "mark": {"type": "line", "strokeWidth": 2.8},
  "encoding": {"x": {"field": "x", "type": "quantitative", "scale": {"domain": [-2500, 2500]}, "axis": {"values": [-2500, -1250, 0, 1250, 2500], "labelOverlap": false, "labelExpr": "'' + datum.value", "title": "Distance to TSS"}},
   "y": {"field": "y", "type": "quantitative", "scale": {"domain": [0, 10]}, "axis": {"values": [0, 2, 4, 6, 8, 10], "tickCount": 6, "labelOverlap": false, "title": "Nucleosome occupancy"}},
   "color": {"field": "s", "type": "nominal", "scale": {"domain": ["WT1", "WT2", "KO1", "KO2"], "range": ["#1f3ce8", "#e8321c", "#2dbe27", "#cc5ce0"]}}}},
 {"data": {"name": "t"}, "transform": [{"filter": "datum.p === 'C'"}], "mark": {"type": "text", "align": "left", "baseline": "middle", "fontSize": 13, "fontWeight": "bold", "font": "Liberation Sans", "color": "black"},
  "encoding": {"x": {"field": "x", "type": "quantitative"}, "y": {"field": "y", "type": "quantitative"}, "text": {"field": "t"}}},
 {"data": {"name": "n"}, "mark": {"type": "text", "align": "center", "baseline": "middle", "fontSize": 14, "font": "Liberation Sans", "color": "black"},
  "encoding": {"x": {"field": "x", "type": "quantitative"}, "y": {"field": "y", "type": "quantitative"}, "text": {"field": "t"}}}
]},
{"title": "D", "width": 268, "height": 178, "layer": [
 {"data": {"name": "d"}, "transform": [{"filter": "datum.p === 'D'"}], "mark": {"type": "line", "strokeWidth": 2.8},
  "encoding": {"x": {"field": "x", "type": "quantitative", "scale": {"domain": [-2500, 2500]}, "axis": {"values": [-2500, -1250, 0, 1250, 2500], "labelOverlap": false, "labelExpr": "'' + datum.value", "title": "Distance to TSS"}},
   "y": {"field": "y", "type": "quantitative", "scale": {"domain": [0, 6]}, "axis": {"values": [0, 2, 4, 6], "tickCount": 4, "labelOverlap": false, "title": "Nucleosome occupancy"}},
   "color": {"field": "s", "type": "nominal", "scale": {"domain": ["WT1", "WT2", "KO1", "KO2"], "range": ["#1f3ce8", "#e8321c", "#2dbe27", "#cc5ce0"]}}}},
 {"data": {"name": "t"}, "transform": [{"filter": "datum.p === 'D'"}], "mark": {"type": "text", "align": "left", "baseline": "middle", "fontSize": 13, "fontWeight": "bold", "font": "Liberation Sans", "color": "black"},
  "encoding": {"x": {"field": "x", "type": "quantitative"}, "y": {"field": "y", "type": "quantitative"}, "text": {"field": "t"}}}
]}
], "spacing": 29}
]
}
